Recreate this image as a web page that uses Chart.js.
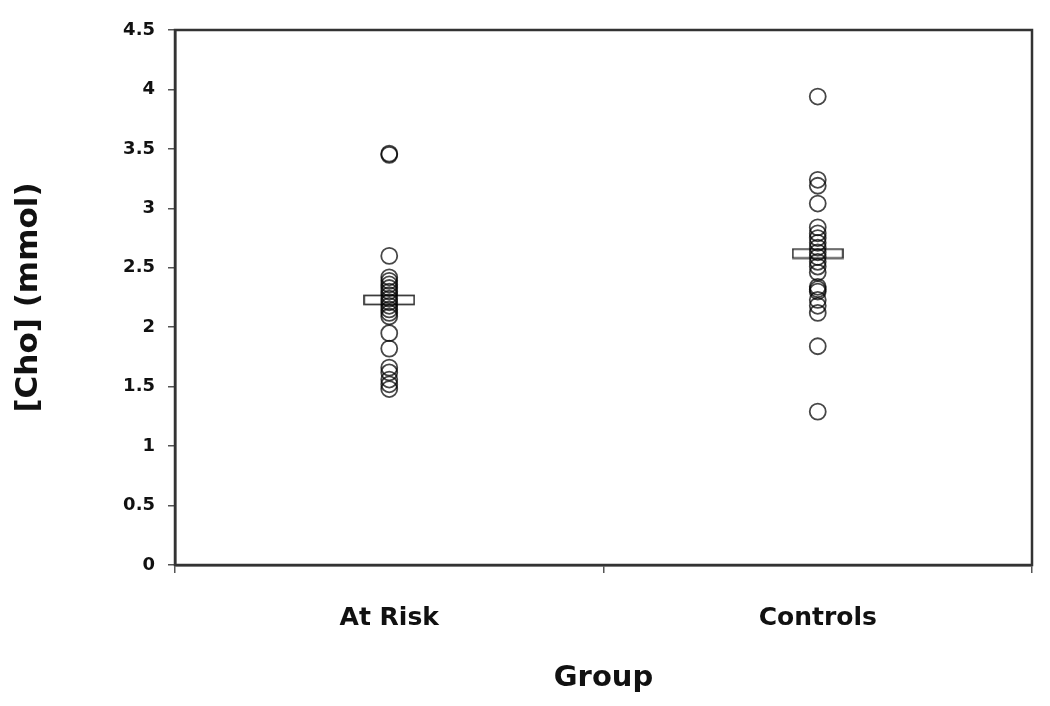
<!DOCTYPE html>
<html>
<head>
<meta charset="utf-8">
<script src="https://cdn.jsdelivr.net/npm/chart.js@4/dist/chart.umd.min.js"></script>
<style>
  html, body { margin: 0; padding: 0; background: #fff; }
  #wrap { width: 1050px; height: 706px; }
</style>
</head>
<body>
<div id="wrap"><canvas id="c" width="1050" height="706"></canvas></div>
<script>
// ---- data ----
const groups = ['At Risk', 'Controls'];
const atRisk = [3.46, 3.45, 2.60, 2.42, 2.39, 2.36, 2.33, 2.30, 2.27, 2.24, 2.21, 2.18, 2.15, 2.12, 2.09, 1.95, 1.82, 1.66, 1.62, 1.56, 1.52, 1.48];
const controls = [3.94, 3.24, 3.19, 3.04, 2.84, 2.79, 2.75, 2.71, 2.67, 2.63, 2.59, 2.55, 2.51, 2.46, 2.34, 2.32, 2.30, 2.23, 2.18, 2.12, 1.84, 1.29];
const groupMeans = [2.23, 2.62];
const yTicks = [0, 0.5, 1, 1.5, 2, 2.5, 3, 3.5, 4, 4.5];

const FONT = "'DejaVu Sans', 'Liberation Sans', Arial, sans-serif";
const INK = '#111';

// mean marker: outlined horizontal bar
const meanMark = document.createElement('canvas');
meanMark.width = 52; meanMark.height = 12;
(function () {
  const g = meanMark.getContext('2d');
  g.strokeStyle = 'rgba(0,0,0,0.8)';
  g.lineWidth = 1.7;
  g.strokeRect(1, 1.5, 50, 9);
})();

const boxPlugin = {
  id: 'box',
  afterDraw(chart) {
    const { ctx, chartArea: a } = chart;
    ctx.save();
    ctx.strokeStyle = '#333';
    ctx.lineWidth = 2.5;
    ctx.strokeRect(a.left, a.top, a.right - a.left, a.bottom - a.top);
    ctx.restore();
  }
};

new Chart(document.getElementById('c'), {
  type: 'scatter',
  data: {
    labels: groups,
    datasets: [
      {
        data: atRisk.map(v => ({ x: groups[0], y: v })),
        pointStyle: 'circle', pointRadius: 8, borderWidth: 1.8,
        borderColor: 'rgba(0,0,0,0.72)', backgroundColor: 'rgba(0,0,0,0)'
      },
      {
        data: controls.map(v => ({ x: groups[1], y: v })),
        pointStyle: 'circle', pointRadius: 8, borderWidth: 1.8,
        borderColor: 'rgba(0,0,0,0.72)', backgroundColor: 'rgba(0,0,0,0)'
      },
      {
        data: groupMeans.map((v, i) => ({ x: groups[i], y: v })),
        pointStyle: meanMark, pointRadius: 10
      }
    ]
  },
  options: {
    responsive: false,
    animation: false,
    events: [],
    layout: { padding: { left: 0, top: 30, right: 18, bottom: 0 } },
    plugins: { legend: { display: false }, tooltip: { enabled: false } },
    scales: {
      x: {
        type: 'category',
        labels: groups,
        offset: true,
        grid: { offset: true, drawOnChartArea: false, drawTicks: true, tickLength: 8, color: '#555', lineWidth: 1.5 },
        border: { display: true, color: '#333', width: 2.5 },
        ticks: { color: INK, padding: 30, font: { family: FONT, size: 25, weight: 'bold' } },
        title: { display: true, text: 'Group', color: INK, font: { family: FONT, size: 29, weight: 'bold' }, padding: { top: 0, bottom: 10 } },
        afterFit(s) { s.height = 141; }
      },
      y: {
        type: 'linear',
        min: 0, max: 4.5,
        afterBuildTicks(s) { s.ticks = yTicks.map(v => ({ value: v })); },
        grid: { drawOnChartArea: false, drawTicks: true, tickLength: 7, color: '#555', lineWidth: 1.5 },
        border: { display: true, color: '#333', width: 2.5 },
        ticks: { color: INK, padding: 13, font: { family: FONT, size: 18, weight: 'bold' },
                 callback: v => String(v) },
        title: { display: true, text: '[Cho] (mmol)', color: INK, font: { family: FONT, size: 31, weight: 'bold' }, padding: { top: 10, bottom: 0 } },
        afterFit(s) { s.width = 175; }
      }
    }
  },
  plugins: [boxPlugin]
});
</script>
</body>
</html>
